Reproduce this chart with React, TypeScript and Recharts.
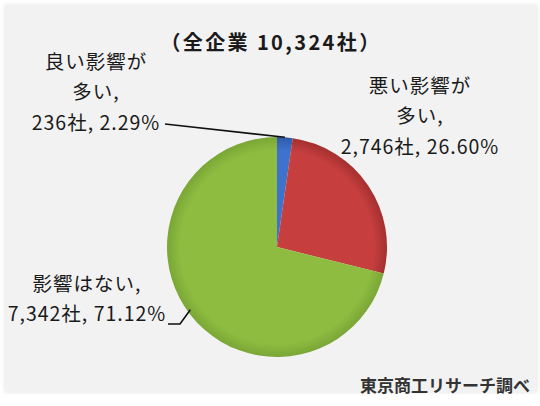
import React from "react";
import { PieChart, Pie, Cell } from "recharts";

const categories = ["良い影響が多い", "悪い影響が多い", "影響はない"];
const companyCounts = [236, 2746, 7342];
const percentages = ["2.29%", "26.60%", "71.12%"];
const labelLines = [
  ["良い影響が", "多い,", "236社, 2.29%"],
  ["悪い影響が", "多い,", "2,746社, 26.60%"],
  ["影響はない,", "7,342社, 71.12%"],
];
const titleText = "（全企業 10,324社）";
const sourceText = "東京商工リサーチ調べ";

const data = categories.map((name, i) => ({
  name,
  value: companyCounts[i],
  pct: percentages[i],
}));

const sliceColors = [
  { inner: "#3f72cc", outer: "#2f5aa8" },
  { inner: "#c63f3e", outer: "#a42f2f" },
  { inner: "#8dbc40", outer: "#7aa636" },
];

// label block anchors (center x, first line center y) and leader-line elbow
const labelLayout = [
  { x: 96, y: 60, lead: [[165, 124]] as number[][] },
  { x: 420, y: 84, lead: [] as number[][] },
  { x: 87, y: 282, lead: [[168, 324], [180, 324]] as number[][] },
];
const LINE_GAP = 30.5;
const FONT = '"Noto Sans CJK JP", "Noto Sans", sans-serif';

const RADIAN = Math.PI / 180;

const renderLabel = (props: any) => {
  const { cx, cy, midAngle, outerRadius, index } = props;
  const layout = labelLayout[index];
  const lines = labelLines[index];
  const ex = cx + outerRadius * Math.cos(-midAngle * RADIAN);
  const ey = cy + outerRadius * Math.sin(-midAngle * RADIAN);
  let path = "";
  if (layout.lead.length) {
    const pts = [...layout.lead, [ex, ey - (index === 2 ? 5 : 0)]];
    path = pts.map((p, i) => `${i === 0 ? "M" : "L"}${p[0]},${p[1]}`).join(" ");
  }
  return (
    <g key={`lbl-${index}`}>
      {path && <path d={path} stroke="#111" strokeWidth={1.6} fill="none" />}
      {lines.map((t, i) => (
        <text
          key={i}
          x={layout.x}
          y={layout.y + i * LINE_GAP}
          textAnchor="middle"
          dominantBaseline="central"
          fontFamily={FONT}
          fontSize={19.5}
          letterSpacing={1.0}
          fill="#1a1a1a"
        >
          {t}
        </text>
      ))}
    </g>
  );
};

export default function App() {
  const CX = 277;
  const CY = 247;
  const R = 110;
  return (
    <div
      style={{
        position: "absolute",
        left: 0,
        top: 0,
        width: 540,
        height: 406,
        background: "#ffffff",
        overflow: "hidden",
      }}
    >
      <div
        style={{
          position: "absolute",
          left: 5,
          top: 5,
          width: 532,
          height: 387,
          background: "#f2f2f2",
          boxShadow: "0 0 4px rgba(0,0,0,0.12)",
        }}
      />
      <div style={{ position: "absolute", left: 0, top: 0 }}>
        <PieChart width={540} height={406} margin={{ top: 0, right: 0, bottom: 0, left: 0 }}>
          <defs>
            {sliceColors.map((c, i) => (
              <radialGradient
                key={i}
                id={`grad${i}`}
                cx={CX}
                cy={CY}
                r={R}
                gradientUnits="userSpaceOnUse"
              >
                <stop offset="0%" stopColor={c.inner} />
                <stop offset="88%" stopColor={c.inner} />
                <stop offset="100%" stopColor={c.outer} />
              </radialGradient>
            ))}
          </defs>
          <text
            x={271}
            y={41}
            textAnchor="middle"
            dominantBaseline="central"
            fontFamily={FONT}
            fontSize={20}
            fontWeight="bold"
            letterSpacing={2.4}
            fill="#1a1a1a"
          >
            {titleText}
          </text>
          <Pie
            data={data}
            dataKey="value"
            nameKey="name"
            cx={CX}
            cy={CY}
            outerRadius={R}
            startAngle={90}
            endAngle={-270}
            stroke="none"
            label={renderLabel}
            labelLine={false}
            isAnimationActive={false}
          >
            {data.map((d, i) => (
              <Cell key={d.name} fill={`url(#grad${i})`} />
            ))}
          </Pie>
          <text
            x={530}
            y={384}
            textAnchor="end"
            dominantBaseline="central"
            fontFamily={FONT}
            fontSize={17}
            fontWeight="bold"
            fill="#333"
          >
            {sourceText}
          </text>
        </PieChart>
      </div>
    </div>
  );
}
